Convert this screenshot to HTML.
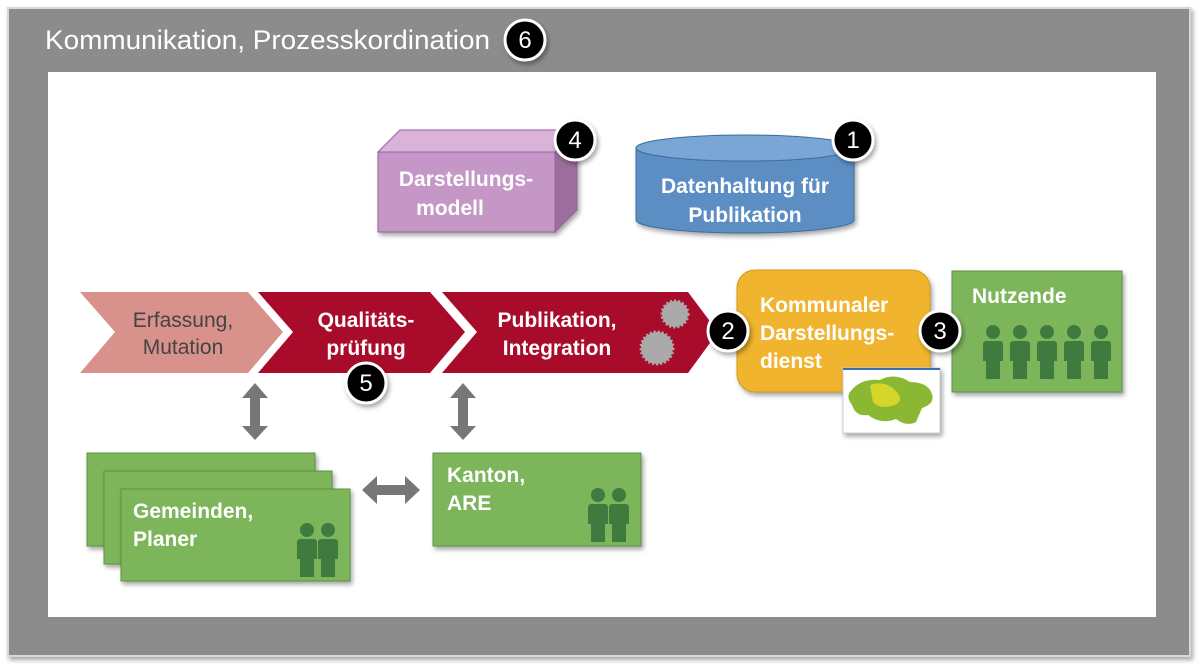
<!DOCTYPE html>
<html><head><meta charset="utf-8"><style>
body{margin:0;width:1200px;height:666px;background:#fff;overflow:hidden;font-family:"Liberation Sans",sans-serif}
</style></head><body>
<svg width="1200" height="666" viewBox="0 0 1200 666" xmlns="http://www.w3.org/2000/svg" font-family="Liberation Sans, sans-serif">
<defs>
<filter id="sh" x="-20%" y="-20%" width="140%" height="140%"><feDropShadow dx="2" dy="3" stdDeviation="2.5" flood-opacity="0.35"/></filter>
<g id="p"><circle cx="0" cy="-18" r="7"/><path d="M-7,-9 h14 a3,3 0 0 1 3,3 v17 h-3 v18 h-14 v-18 h-3 v-17 a3,3 0 0 1 3,-3z"/></g>
</defs>
<rect x="0" y="0" width="1200" height="666" fill="#fff"/>
<rect x="8" y="8" width="1182" height="648" fill="#8c8c8c" stroke="#d8d8d8" stroke-width="2" filter="url(#sh)"/>
<text x="45" y="49" font-size="27" fill="#fff" textLength="445" lengthAdjust="spacingAndGlyphs">Kommunikation, Prozesskordination</text>
<rect x="48" y="72" width="1108" height="545" fill="#fff"/>

<!-- cube -->
<g filter="url(#sh)">
<polygon points="378,152 400,130 577,130 555,152" fill="#d9b3da" stroke="#9b5fa0"/>
<polygon points="555,152 577,130 577,210 555,232" fill="#9c6e9e" stroke="#9b5fa0"/>
<rect x="378" y="152" width="177" height="80" fill="#c597c7" stroke="#9b5fa0"/>
</g>
<text x="466" y="186" font-size="21" font-weight="bold" fill="#fff" text-anchor="middle">Darstellungs-</text>
<text x="450" y="215" font-size="21" font-weight="bold" fill="#fff" text-anchor="middle">modell</text>

<!-- cylinder -->
<g filter="url(#sh)">
<path d="M636,148 v72 a109,13 0 0 0 218,0 v-72z" fill="#5b8ec4" stroke="#3e6d9e"/>
<ellipse cx="745" cy="148" rx="109" ry="13" fill="#7aa6d6" stroke="#3e6d9e"/>
</g>
<text x="745" y="193" font-size="21" font-weight="bold" fill="#fff" text-anchor="middle">Datenhaltung  für</text>
<text x="745" y="222" font-size="21" font-weight="bold" fill="#fff" text-anchor="middle">Publikation</text>

<!-- chevrons -->
<polygon points="80,292 248,292 283,332 248,373 80,373 115,332" fill="#d9918b"/>
<polygon points="258,292 430,292 465,332 430,373 258,373 293,332" fill="#a80c2a"/>
<polygon points="442,292 688,292 718,332 688,373 442,373 477,332" fill="#a80c2a"/>
<text x="183" y="327" font-size="21" fill="#444" text-anchor="middle">Erfassung,</text>
<text x="183" y="354" font-size="21" fill="#444" text-anchor="middle">Mutation</text>
<text x="366" y="327" font-size="21" font-weight="bold" fill="#fff" text-anchor="middle">Qualitäts-</text>
<text x="366" y="355" font-size="21" font-weight="bold" fill="#fff" text-anchor="middle">prüfung</text>
<text x="557" y="327" font-size="21" font-weight="bold" fill="#fff" text-anchor="middle">Publikation,</text>
<text x="557" y="355" font-size="21" font-weight="bold" fill="#fff" text-anchor="middle">Integration</text>
<circle cx="657" cy="348" r="16" fill="#aaa" stroke="#aaa" stroke-width="3" stroke-dasharray="2 2"/>
<circle cx="675" cy="314" r="13" fill="#aaa" stroke="#aaa" stroke-width="3" stroke-dasharray="2 2"/>

<!-- orange -->
<rect x="737" y="270" width="193" height="122" rx="18" fill="#f0b42e" stroke="#d29a1c" filter="url(#sh)"/>
<text x="760" y="312" font-size="21" font-weight="bold" fill="#fff">Kommunaler</text>
<text x="760" y="340" font-size="21" font-weight="bold" fill="#fff">Darstellungs-</text>
<text x="760" y="368" font-size="21" font-weight="bold" fill="#fff">dienst</text>
<rect x="843" y="368" width="97" height="65" fill="#fff" stroke="#ccc" filter="url(#sh)"/>
<rect x="843" y="368" width="97" height="2" fill="#3a6fb0"/>
<path d="M850,392 q10,-14 30,-12 q15,-8 30,2 q18,0 22,12 q3,10 -10,14 l-6,14 q-10,5 -20,-3 q-15,6 -28,-4 q-12,2 -16,-10 q-6,-8 -2,-13z" fill="#8ab833"/>
<path d="M870,385 q15,-5 25,5 q10,10 0,15 q-15,5 -22,-3z" fill="#d6d62a"/>

<!-- Nutzende -->
<rect x="952" y="271" width="170" height="121" fill="#7db55a" stroke="#5f9440" filter="url(#sh)"/>
<text x="972" y="303" font-size="21" font-weight="bold" fill="#fff">Nutzende</text>
<g fill="#3f7a3f"><use href="#p" x="993" y="350"/><use href="#p" x="1020" y="350"/><use href="#p" x="1047" y="350"/><use href="#p" x="1074" y="350"/><use href="#p" x="1101" y="350"/></g>

<!-- arrows -->
<g fill="#777">
<polygon points="255,383 268,398 260,398 260,426 268,426 255,440 242,426 250,426 250,398 242,398"/>
<polygon points="463,383 476,398 468,398 468,426 476,426 463,440 450,426 458,426 458,398 450,398"/>
<polygon points="362,490 377,476 377,485 405,485 405,476 420,490 405,504 405,495 377,495 377,504"/>
</g>

<!-- Gemeinden -->
<rect x="87" y="453" width="228" height="93" fill="#7db55a" stroke="#5f9440" filter="url(#sh)"/>
<rect x="104" y="471" width="228" height="93" fill="#7db55a" stroke="#5f9440" filter="url(#sh)"/>
<rect x="121" y="489" width="229" height="92" fill="#7db55a" stroke="#5f9440" filter="url(#sh)"/>
<text x="133" y="518" font-size="21" font-weight="bold" fill="#fff">Gemeinden,</text>
<text x="133" y="546" font-size="21" font-weight="bold" fill="#fff">Planer</text>
<g fill="#3f7a3f"><use href="#p" x="307" y="548"/><use href="#p" x="328" y="548"/></g>

<!-- Kanton -->
<rect x="433" y="453" width="208" height="93" fill="#7db55a" stroke="#5f9440" filter="url(#sh)"/>
<text x="447" y="482" font-size="21" font-weight="bold" fill="#fff">Kanton,</text>
<text x="447" y="510" font-size="21" font-weight="bold" fill="#fff">ARE</text>
<g fill="#3f7a3f"><use href="#p" x="598" y="513"/><use href="#p" x="619" y="513"/></g>

<!-- badges -->
<g font-size="24" fill="#fff" text-anchor="middle">
<g filter="url(#sh)"><circle cx="525" cy="40" r="20" fill="#000" stroke="#fff" stroke-width="3"/><circle cx="575" cy="140" r="20" fill="#000" stroke="#fff" stroke-width="3"/><circle cx="853" cy="140" r="20" fill="#000" stroke="#fff" stroke-width="3"/><circle cx="728" cy="331" r="20" fill="#000" stroke="#fff" stroke-width="3"/><circle cx="940" cy="331" r="20" fill="#000" stroke="#fff" stroke-width="3"/><circle cx="366" cy="383" r="20" fill="#000" stroke="#fff" stroke-width="3"/></g>
<text x="525" y="48">6</text><text x="575" y="148">4</text><text x="853" y="148">1</text><text x="728" y="339">2</text><text x="940" y="339">3</text><text x="366" y="391">5</text>
</g>
</svg>
</body></html>
